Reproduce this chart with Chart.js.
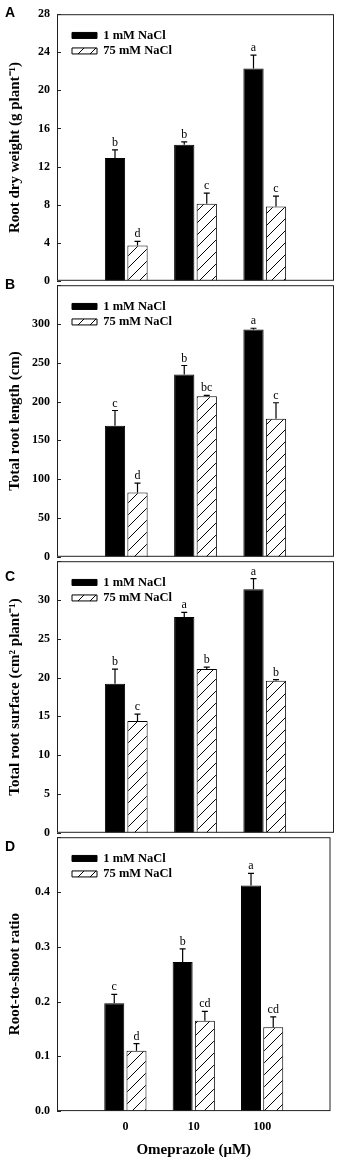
<!DOCTYPE html>
<html lang="en">
  <head>
    <meta charset="UTF-8" />
    <title>Omeprazole and root growth under NaCl</title>
    <style>
      * {
        margin: 0;
        padding: 0;
      }
      body {
        width: 339px;
        height: 1162px;
        background: #fff;
        position: relative;
        overflow: hidden;
      }
      .panel {
        position: absolute;
        left: 0;
        width: 339px;
      }
      .letter {
        position: absolute;
        left: 5px;
        font: bold 14px "Liberation Sans", Arial, sans-serif;
        line-height: 14px;
      }
    </style>
  </head>
  <body>
    <div class="panel" style="top: 0; height: 295px"><canvas id="chartA"></canvas></div>
    <div class="panel" style="top: 271px; height: 300px"><canvas id="chartB"></canvas></div>
    <div class="panel" style="top: 547px; height: 300px"><canvas id="chartC"></canvas></div>
    <div class="panel" style="top: 823px; height: 339px"><canvas id="chartD"></canvas></div>
    <div class="letter" style="top: 5px">A</div>
    <div class="letter" style="top: 277px">B</div>
    <div class="letter" style="top: 569px">C</div>
    <div class="letter" style="top: 839px">D</div>

    <script src="https://cdn.jsdelivr.net/npm/chart.js"></script>
    <script>
      // data
      const doses = ["0", "10", "100"];
      const series = ["1 mM NaCl", "75 mM NaCl"];

      // A - root dry weight
      const dryLow = [12.9, 14.3, 22.3];
      const dryLowErr = [0.85, 0.3, 1.4];
      const dryHigh = [3.7, 8.1, 7.8];
      const dryHighErr = [0.45, 1.1, 1.1];
      const dryLowTags = ["b", "b", "a"];
      const dryHighTags = ["d", "c", "c"];

      // B - total root length
      const lenLow = [169, 235, 293];
      const lenLowErr = [19.5, 11.5, 1.5];
      const lenHigh = [83, 207, 178];
      const lenHighErr = [12, 1, 20.5];
      const lenLowTags = ["c", "b", "a"];
      const lenHighTags = ["d", "bc", "c"];

      // C - total root surface
      const surfLow = [19.2, 27.8, 31.4];
      const surfLowErr = [1.9, 0.6, 1.35];
      const surfHigh = [14.4, 21.1, 19.6];
      const surfHighErr = [0.9, 0.25, 0.15];
      const surfLowTags = ["b", "a", "a"];
      const surfHighTags = ["c", "b", "b"];

      // D - root-to-shoot ratio
      const ratioLow = [0.197, 0.272, 0.412];
      const ratioLowErr = [0.016, 0.024, 0.022];
      const ratioHigh = [0.11, 0.165, 0.153];
      const ratioHighErr = [0.013, 0.017, 0.019];
      const ratioLowTags = ["c", "b", "a"];
      const ratioHighTags = ["d", "cd", "cd"];

      const serif = "'Liberation Serif', 'Times New Roman', serif";

      // empty slot on each side so the groups sit where the figure has them
      const pad = (a) => [null, ...a, null];

      function hatch() {
        const c = document.createElement("canvas");
        c.width = 12;
        c.height = 12;
        const g = c.getContext("2d");
        g.fillStyle = "#fff";
        g.fillRect(0, 0, 12, 12);
        g.strokeStyle = "#000";
        g.lineWidth = 1;
        g.beginPath();
        g.moveTo(0, 12);
        g.lineTo(12, 0);
        g.moveTo(-6, 6);
        g.lineTo(6, -6);
        g.moveTo(6, 18);
        g.lineTo(18, 6);
        g.stroke();
        return g.createPattern(c, "repeat");
      }
      const hatchFill = hatch();

      const extras = {
        id: "extras",
        afterLayout(chart) {
          const lg = chart.legend;
          const a = chart.chartArea;
          lg.left = a.left + 12;
          lg.top = a.top + 12;
          lg.right = lg.left + lg.width;
          lg.bottom = lg.top + lg.height;
        },
        afterDatasetsDraw(chart) {
          const ctx = chart.ctx;
          const y = chart.scales.y;
          const a = chart.chartArea;
          ctx.save();
          ctx.strokeStyle = "#222";
          ctx.lineWidth = 1;
          ctx.strokeRect(a.left + 0.5, a.top + 0.5, a.right - a.left - 1, a.bottom - a.top - 1);
          y.ticks.forEach((t) => {
            const py = Math.round(y.getPixelForValue(t.value)) + 0.5;
            ctx.beginPath();
            ctx.moveTo(a.left, py);
            ctx.lineTo(a.left + 4, py);
            ctx.stroke();
          });

          ctx.strokeStyle = "#000";
          ctx.fillStyle = "#000";
          ctx.lineWidth = 1.2;
          ctx.font = "12px " + serif;
          ctx.textAlign = "center";
          ctx.textBaseline = "alphabetic";
          chart.data.datasets.forEach((ds, d) => {
            const meta = chart.getDatasetMeta(d);
            meta.data.forEach((bar, i) => {
              const v = ds.data[i];
              if (v == null) return;
              const top = y.getPixelForValue(v + ds.errors[i]);
              ctx.beginPath();
              ctx.moveTo(bar.x, bar.y);
              ctx.lineTo(bar.x, top);
              ctx.moveTo(bar.x - 3, top);
              ctx.lineTo(bar.x + 3, top);
              ctx.stroke();
              ctx.fillText(ds.tags[i], bar.x, top - 4);
            });
          });
          ctx.restore();
        }
      };

      function makeChart(id, p) {
        const data = {
          labels: pad(doses).map((d) => d || ""),
          datasets: [
            {
              label: series[0],
              data: pad(p.low),
              errors: pad(p.lowErr),
              tags: pad(p.lowTags),
              backgroundColor: "#000",
              borderColor: "#000",
              borderWidth: 1
            },
            {
              label: series[1],
              data: pad(p.high),
              errors: pad(p.highErr),
              tags: pad(p.highTags),
              backgroundColor: hatchFill,
              borderColor: "#000",
              borderWidth: 1
            }
          ]
        };

        const config = {
          type: "bar",
          data,
          options: {
            responsive: true,
            maintainAspectRatio: false,
            animation: false,
            categoryPercentage: 0.65,
            barPercentage: 0.9,
            layout: { padding: p.padding },
            plugins: {
              tooltip: { enabled: false },
              legend: {
                position: "chartArea",
                align: "start",
                labels: {
                  boxWidth: 25,
                  boxHeight: 6,
                  padding: 3,
                  color: "#000",
                  font: { family: serif, weight: "bold", size: 12.5 }
                }
              }
            },
            scales: {
              x: {
                display: p.showX,
                offset: false,
                grid: { display: false, drawTicks: false },
                border: { display: false },
                ticks: {
                  padding: 8.5,
                  color: "#000",
                  maxRotation: 0,
                  font: { family: serif, weight: "bold", size: 12 }
                },
                title: {
                  display: true,
                  text: "Omeprazole (\u03bcM)",
                  color: "#000",
                  padding: { top: 0, bottom: 0 },
                  font: { family: serif, weight: "bold", size: 15, lineHeight: 1 }
                }
              },
              y: {
                min: 0,
                max: p.max,
                afterFit: (s) => {
                  s.width = 57;
                },
                grid: { display: false, drawTicks: false },
                border: { display: false },
                ticks: {
                  stepSize: p.step,
                  padding: 7,
                  color: "#000",
                  font: { family: serif, weight: "bold", size: 12 },
                  callback: (v) => (p.hideTop && v === p.max ? "" : v.toFixed(p.digits))
                },
                title: {
                  display: true,
                  text: p.title,
                  color: "#000",
                  padding: { top: 7.5, bottom: 0 },
                  font: { family: serif, weight: "bold", size: 15, lineHeight: 1 }
                }
              }
            }
          },
          plugins: [extras]
        };

        return new Chart(document.getElementById(id), config);
      }

      makeChart("chartA", {
        low: dryLow, lowErr: dryLowErr, high: dryHigh, highErr: dryHighErr,
        lowTags: dryLowTags, highTags: dryHighTags,
        max: 28, step: 4, digits: 0, hideTop: false, showX: false,
        title: "Root dry weight (g plant\u207b\u00b9)",
        padding: { top: 8, right: 5, bottom: 12, left: 0 }
      });

      makeChart("chartB", {
        low: lenLow, lowErr: lenLowErr, high: lenHigh, highErr: lenHighErr,
        lowTags: lenLowTags, highTags: lenHighTags,
        max: 350, step: 50, digits: 0, hideTop: true, showX: false,
        title: "Total root length (cm)",
        padding: { top: 12, right: 5, bottom: 12, left: 0 }
      });

      makeChart("chartC", {
        low: surfLow, lowErr: surfLowErr, high: surfHigh, highErr: surfHighErr,
        lowTags: surfLowTags, highTags: surfHighTags,
        max: 35, step: 5, digits: 0, hideTop: true, showX: false,
        title: "Total root surface (cm\u00b2 plant\u207b\u00b9)",
        padding: { top: 12, right: 5, bottom: 12, left: 0 }
      });

      makeChart("chartD", {
        low: ratioLow, lowErr: ratioLowErr, high: ratioHigh, highErr: ratioHighErr,
        lowTags: ratioLowTags, highTags: ratioHighTags,
        max: 0.5, step: 0.1, digits: 1, hideTop: true, showX: true,
        title: "Root-to-shoot ratio",
        padding: { top: 12, right: 5, bottom: 4.5, left: 0 }
      });
    </script>
  </body>
</html>
